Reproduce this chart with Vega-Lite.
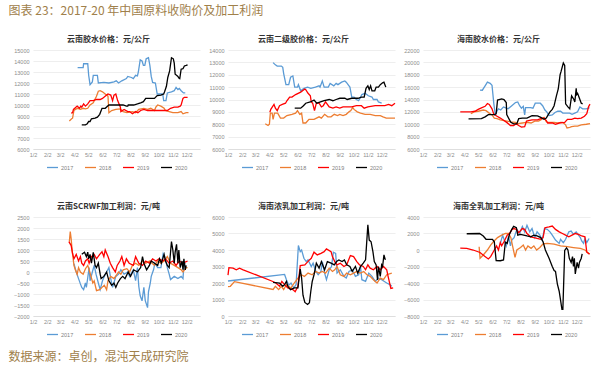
{
"$schema":"https://vega.github.io/schema/vega-lite/v6.json",
"padding":{"left":8,"top":5,"right":5,"bottom":5},
"data":{"format":{"parse":{"d":"date:'%m/%d'"}},"values":[
{"p":1,"s":"2017","d":"4/9","v":13400},{"p":1,"s":"2017","d":"4/21","v":13400},{"p":1,"s":"2017","d":"4/22","v":13750},{"p":1,"s":"2017","d":"5/1","v":13750},{"p":1,"s":"2017","d":"5/3","v":12700},{"p":1,"s":"2017","d":"5/6","v":11850},{"p":1,"s":"2017","d":"5/11","v":12100},{"p":1,"s":"2017","d":"5/13","v":12700},{"p":1,"s":"2017","d":"5/22","v":12700},{"p":1,"s":"2017","d":"5/24","v":12000},{"p":1,"s":"2017","d":"6/5","v":12050},{"p":1,"s":"2017","d":"6/16","v":12000},{"p":1,"s":"2017","d":"6/27","v":12100},{"p":1,"s":"2017","d":"7/2","v":12200},{"p":1,"s":"2017","d":"7/7","v":12000},{"p":1,"s":"2017","d":"7/14","v":12200},{"p":1,"s":"2017","d":"7/24","v":12400},{"p":1,"s":"2017","d":"7/27","v":12600},{"p":1,"s":"2017","d":"8/4","v":12500},{"p":1,"s":"2017","d":"8/8","v":12400},{"p":1,"s":"2017","d":"8/13","v":12700},{"p":1,"s":"2017","d":"8/17","v":12650},{"p":1,"s":"2017","d":"8/19","v":13000},{"p":1,"s":"2017","d":"8/23","v":14100},{"p":1,"s":"2017","d":"8/27","v":14000},{"p":1,"s":"2017","d":"8/30","v":13600},{"p":1,"s":"2017","d":"9/2","v":13600},{"p":1,"s":"2017","d":"9/5","v":14200},{"p":1,"s":"2017","d":"9/10","v":14300},{"p":1,"s":"2017","d":"9/13","v":13600},{"p":1,"s":"2017","d":"9/16","v":12600},{"p":1,"s":"2017","d":"9/19","v":12050},{"p":1,"s":"2017","d":"9/25","v":12000},{"p":1,"s":"2017","d":"9/29","v":11000},{"p":1,"s":"2017","d":"10/11","v":11000},{"p":1,"s":"2017","d":"10/13","v":10400},{"p":1,"s":"2017","d":"10/18","v":10400},{"p":1,"s":"2017","d":"10/21","v":11100},{"p":1,"s":"2017","d":"10/30","v":11200},{"p":1,"s":"2017","d":"11/5","v":11300},{"p":1,"s":"2017","d":"11/9","v":11600},{"p":1,"s":"2017","d":"11/13","v":11400},{"p":1,"s":"2017","d":"11/16","v":11500},{"p":1,"s":"2017","d":"11/20","v":11300},{"p":1,"s":"2017","d":"11/25","v":11100},{"p":1,"s":"2017","d":"11/29","v":11100},
{"p":1,"s":"2018","d":"3/22","v":8550},{"p":1,"s":"2018","d":"3/27","v":8750},{"p":1,"s":"2018","d":"3/29","v":8800},{"p":1,"s":"2018","d":"4/1","v":9500},{"p":1,"s":"2018","d":"4/4","v":9600},{"p":1,"s":"2018","d":"4/9","v":9700},{"p":1,"s":"2018","d":"4/15","v":9600},{"p":1,"s":"2018","d":"4/21","v":9700},{"p":1,"s":"2018","d":"4/26","v":9650},{"p":1,"s":"2018","d":"5/1","v":9700},{"p":1,"s":"2018","d":"5/6","v":10000},{"p":1,"s":"2018","d":"5/13","v":10200},{"p":1,"s":"2018","d":"5/20","v":10800},{"p":1,"s":"2018","d":"5/24","v":11250},{"p":1,"s":"2018","d":"5/28","v":11300},{"p":1,"s":"2018","d":"6/2","v":11200},{"p":1,"s":"2018","d":"6/8","v":11000},{"p":1,"s":"2018","d":"6/14","v":10800},{"p":1,"s":"2018","d":"6/16","v":9300},{"p":1,"s":"2018","d":"6/22","v":9500},{"p":1,"s":"2018","d":"7/1","v":9600},{"p":1,"s":"2018","d":"7/11","v":9650},{"p":1,"s":"2018","d":"7/17","v":9400},{"p":1,"s":"2018","d":"7/25","v":9300},{"p":1,"s":"2018","d":"8/6","v":9400},{"p":1,"s":"2018","d":"8/13","v":9300},{"p":1,"s":"2018","d":"8/20","v":9600},{"p":1,"s":"2018","d":"8/31","v":9700},{"p":1,"s":"2018","d":"9/8","v":9600},{"p":1,"s":"2018","d":"9/15","v":9700},{"p":1,"s":"2018","d":"9/23","v":9500},{"p":1,"s":"2018","d":"9/26","v":9800},{"p":1,"s":"2018","d":"9/30","v":10000},{"p":1,"s":"2018","d":"10/7","v":9900},{"p":1,"s":"2018","d":"10/14","v":9700},{"p":1,"s":"2018","d":"10/17","v":9500},{"p":1,"s":"2018","d":"10/25","v":9400},{"p":1,"s":"2018","d":"11/2","v":9300},{"p":1,"s":"2018","d":"11/13","v":9300},{"p":1,"s":"2018","d":"11/20","v":9400},{"p":1,"s":"2018","d":"11/24","v":9200},{"p":1,"s":"2018","d":"12/1","v":9300},{"p":1,"s":"2018","d":"12/6","v":9300},
{"p":1,"s":"2019","d":"3/26","v":9270},{"p":1,"s":"2019","d":"3/29","v":9300},{"p":1,"s":"2019","d":"3/31","v":9600},{"p":1,"s":"2019","d":"4/8","v":9900},{"p":1,"s":"2019","d":"4/13","v":9700},{"p":1,"s":"2019","d":"4/16","v":9900},{"p":1,"s":"2019","d":"4/18","v":9800},{"p":1,"s":"2019","d":"4/22","v":10100},{"p":1,"s":"2019","d":"4/26","v":9900},{"p":1,"s":"2019","d":"5/1","v":10100},{"p":1,"s":"2019","d":"5/6","v":10400},{"p":1,"s":"2019","d":"5/13","v":10400},{"p":1,"s":"2019","d":"5/20","v":10500},{"p":1,"s":"2019","d":"5/28","v":10500},{"p":1,"s":"2019","d":"6/2","v":10600},{"p":1,"s":"2019","d":"6/11","v":10900},{"p":1,"s":"2019","d":"6/14","v":11000},{"p":1,"s":"2019","d":"6/20","v":10900},{"p":1,"s":"2019","d":"6/24","v":10400},{"p":1,"s":"2019","d":"6/27","v":10900},{"p":1,"s":"2019","d":"7/1","v":11000},{"p":1,"s":"2019","d":"7/5","v":10400},{"p":1,"s":"2019","d":"7/11","v":9800},{"p":1,"s":"2019","d":"7/12","v":9400},{"p":1,"s":"2019","d":"7/19","v":9600},{"p":1,"s":"2019","d":"7/27","v":9400},{"p":1,"s":"2019","d":"7/31","v":9400},{"p":1,"s":"2019","d":"8/6","v":9200},{"p":1,"s":"2019","d":"8/13","v":9400},{"p":1,"s":"2019","d":"8/18","v":9300},{"p":1,"s":"2019","d":"8/24","v":9500},{"p":1,"s":"2019","d":"8/31","v":9600},{"p":1,"s":"2019","d":"9/8","v":9500},{"p":1,"s":"2019","d":"9/23","v":9500},{"p":1,"s":"2019","d":"10/7","v":9500},{"p":1,"s":"2019","d":"10/21","v":9500},{"p":1,"s":"2019","d":"10/28","v":9700},{"p":1,"s":"2019","d":"11/5","v":9800},{"p":1,"s":"2019","d":"11/13","v":9800},{"p":1,"s":"2019","d":"11/18","v":9900},{"p":1,"s":"2019","d":"11/20","v":10000},{"p":1,"s":"2019","d":"11/24","v":10600},{"p":1,"s":"2019","d":"11/27","v":10700},{"p":1,"s":"2019","d":"12/4","v":10700},
{"p":1,"s":"2020","d":"4/18","v":8200},{"p":1,"s":"2020","d":"4/26","v":8200},{"p":1,"s":"2020","d":"4/30","v":8300},{"p":1,"s":"2020","d":"5/3","v":8500},{"p":1,"s":"2020","d":"5/6","v":8500},{"p":1,"s":"2020","d":"5/9","v":8750},{"p":1,"s":"2020","d":"5/17","v":8800},{"p":1,"s":"2020","d":"5/22","v":8900},{"p":1,"s":"2020","d":"5/27","v":9150},{"p":1,"s":"2020","d":"6/1","v":9700},{"p":1,"s":"2020","d":"6/8","v":9700},{"p":1,"s":"2020","d":"6/16","v":10000},{"p":1,"s":"2020","d":"7/1","v":10000},{"p":1,"s":"2020","d":"7/17","v":10000},{"p":1,"s":"2020","d":"7/24","v":9900},{"p":1,"s":"2020","d":"7/27","v":9900},{"p":1,"s":"2020","d":"7/28","v":10000},{"p":1,"s":"2020","d":"8/9","v":10000},{"p":1,"s":"2020","d":"8/17","v":10100},{"p":1,"s":"2020","d":"8/24","v":10200},{"p":1,"s":"2020","d":"8/30","v":10300},{"p":1,"s":"2020","d":"9/4","v":10600},{"p":1,"s":"2020","d":"9/15","v":10600},{"p":1,"s":"2020","d":"9/23","v":10600},{"p":1,"s":"2020","d":"9/29","v":10850},{"p":1,"s":"2020","d":"10/7","v":10900},{"p":1,"s":"2020","d":"10/13","v":11000},{"p":1,"s":"2020","d":"10/15","v":11200},{"p":1,"s":"2020","d":"10/19","v":11700},{"p":1,"s":"2020","d":"10/22","v":12500},{"p":1,"s":"2020","d":"10/26","v":13100},{"p":1,"s":"2020","d":"10/30","v":14300},{"p":1,"s":"2020","d":"11/3","v":14200},{"p":1,"s":"2020","d":"11/5","v":13800},{"p":1,"s":"2020","d":"11/7","v":12800},{"p":1,"s":"2020","d":"11/10","v":12700},{"p":1,"s":"2020","d":"11/13","v":12600},{"p":1,"s":"2020","d":"11/15","v":12450},{"p":1,"s":"2020","d":"11/17","v":12400},{"p":1,"s":"2020","d":"11/20","v":13250},{"p":1,"s":"2020","d":"11/24","v":13300},{"p":1,"s":"2020","d":"11/27","v":13550},{"p":1,"s":"2020","d":"12/1","v":13600},{"p":1,"s":"2020","d":"12/4","v":13650},
{"p":2,"s":"2017","d":"4/10","v":12980},{"p":2,"s":"2017","d":"4/15","v":12800},{"p":2,"s":"2017","d":"4/19","v":12700},{"p":2,"s":"2017","d":"4/28","v":12700},{"p":2,"s":"2017","d":"5/1","v":12600},{"p":2,"s":"2017","d":"5/3","v":12100},{"p":2,"s":"2017","d":"5/8","v":11200},{"p":2,"s":"2017","d":"5/14","v":11200},{"p":2,"s":"2017","d":"5/18","v":11800},{"p":2,"s":"2017","d":"5/23","v":11900},{"p":2,"s":"2017","d":"5/27","v":11000},{"p":2,"s":"2017","d":"6/2","v":11000},{"p":2,"s":"2017","d":"6/4","v":11200},{"p":2,"s":"2017","d":"6/9","v":10700},{"p":2,"s":"2017","d":"6/16","v":10900},{"p":2,"s":"2017","d":"6/24","v":11000},{"p":2,"s":"2017","d":"7/1","v":10900},{"p":2,"s":"2017","d":"7/11","v":11000},{"p":2,"s":"2017","d":"7/19","v":11100},{"p":2,"s":"2017","d":"7/21","v":11000},{"p":2,"s":"2017","d":"7/26","v":11500},{"p":2,"s":"2017","d":"7/30","v":11000},{"p":2,"s":"2017","d":"8/8","v":11000},{"p":2,"s":"2017","d":"8/12","v":11300},{"p":2,"s":"2017","d":"8/20","v":11100},{"p":2,"s":"2017","d":"8/25","v":11300},{"p":2,"s":"2017","d":"8/29","v":11200},{"p":2,"s":"2017","d":"9/6","v":11400},{"p":2,"s":"2017","d":"9/13","v":11500},{"p":2,"s":"2017","d":"9/16","v":11400},{"p":2,"s":"2017","d":"9/22","v":11100},{"p":2,"s":"2017","d":"9/24","v":11000},{"p":2,"s":"2017","d":"9/28","v":10200},{"p":2,"s":"2017","d":"10/3","v":10200},{"p":2,"s":"2017","d":"10/8","v":10000},{"p":2,"s":"2017","d":"10/13","v":9900},{"p":2,"s":"2017","d":"10/20","v":10400},{"p":2,"s":"2017","d":"10/27","v":10500},{"p":2,"s":"2017","d":"11/3","v":10300},{"p":2,"s":"2017","d":"11/11","v":10200},{"p":2,"s":"2017","d":"11/14","v":10000},{"p":2,"s":"2017","d":"11/22","v":10000},{"p":2,"s":"2017","d":"11/25","v":9800},{"p":2,"s":"2017","d":"12/2","v":9700},
{"p":2,"s":"2018","d":"3/24","v":8040},{"p":2,"s":"2018","d":"3/30","v":7900},{"p":2,"s":"2018","d":"4/2","v":8000},{"p":2,"s":"2018","d":"4/4","v":8900},{"p":2,"s":"2018","d":"4/8","v":8900},{"p":2,"s":"2018","d":"4/10","v":8400},{"p":2,"s":"2018","d":"4/13","v":8900},{"p":2,"s":"2018","d":"4/20","v":8900},{"p":2,"s":"2018","d":"4/26","v":8500},{"p":2,"s":"2018","d":"5/3","v":8500},{"p":2,"s":"2018","d":"5/10","v":8700},{"p":2,"s":"2018","d":"5/21","v":8800},{"p":2,"s":"2018","d":"5/29","v":8900},{"p":2,"s":"2018","d":"6/2","v":9100},{"p":2,"s":"2018","d":"6/7","v":8800},{"p":2,"s":"2018","d":"6/11","v":8900},{"p":2,"s":"2018","d":"6/14","v":8100},{"p":2,"s":"2018","d":"6/20","v":8100},{"p":2,"s":"2018","d":"6/27","v":8400},{"p":2,"s":"2018","d":"7/8","v":8400},{"p":2,"s":"2018","d":"7/19","v":8600},{"p":2,"s":"2018","d":"7/24","v":8500},{"p":2,"s":"2018","d":"7/31","v":8800},{"p":2,"s":"2018","d":"8/7","v":8600},{"p":2,"s":"2018","d":"8/14","v":8600},{"p":2,"s":"2018","d":"8/21","v":8800},{"p":2,"s":"2018","d":"8/28","v":8700},{"p":2,"s":"2018","d":"9/2","v":8800},{"p":2,"s":"2018","d":"9/9","v":8700},{"p":2,"s":"2018","d":"9/16","v":8800},{"p":2,"s":"2018","d":"9/22","v":9000},{"p":2,"s":"2018","d":"9/26","v":9100},{"p":2,"s":"2018","d":"9/30","v":9350},{"p":2,"s":"2018","d":"10/3","v":9200},{"p":2,"s":"2018","d":"10/10","v":9000},{"p":2,"s":"2018","d":"10/17","v":8900},{"p":2,"s":"2018","d":"10/27","v":8800},{"p":2,"s":"2018","d":"11/7","v":8800},{"p":2,"s":"2018","d":"11/18","v":8700},{"p":2,"s":"2018","d":"11/29","v":8700},{"p":2,"s":"2018","d":"12/5","v":8600},{"p":2,"s":"2018","d":"12/12","v":8500},{"p":2,"s":"2018","d":"12/31","v":8500},
{"p":2,"s":"2019","d":"4/3","v":8970},{"p":2,"s":"2019","d":"4/5","v":9200},{"p":2,"s":"2019","d":"4/12","v":9600},{"p":2,"s":"2019","d":"4/15","v":9300},{"p":2,"s":"2019","d":"4/19","v":9100},{"p":2,"s":"2019","d":"4/24","v":9500},{"p":2,"s":"2019","d":"4/30","v":9600},{"p":2,"s":"2019","d":"5/7","v":9700},{"p":2,"s":"2019","d":"5/10","v":9900},{"p":2,"s":"2019","d":"5/16","v":10200},{"p":2,"s":"2019","d":"5/21","v":10200},{"p":2,"s":"2019","d":"5/29","v":10400},{"p":2,"s":"2019","d":"6/9","v":10600},{"p":2,"s":"2019","d":"6/18","v":10850},{"p":2,"s":"2019","d":"6/20","v":10800},{"p":2,"s":"2019","d":"6/25","v":10500},{"p":2,"s":"2019","d":"6/30","v":10300},{"p":2,"s":"2019","d":"7/2","v":9800},{"p":2,"s":"2019","d":"7/5","v":9700},{"p":2,"s":"2019","d":"7/9","v":9100},{"p":2,"s":"2019","d":"7/13","v":9700},{"p":2,"s":"2019","d":"7/19","v":9700},{"p":2,"s":"2019","d":"7/24","v":9400},{"p":2,"s":"2019","d":"7/28","v":9500},{"p":2,"s":"2019","d":"8/2","v":9800},{"p":2,"s":"2019","d":"8/10","v":9400},{"p":2,"s":"2019","d":"8/18","v":9300},{"p":2,"s":"2019","d":"8/25","v":9400},{"p":2,"s":"2019","d":"9/2","v":9300},{"p":2,"s":"2019","d":"9/9","v":9400},{"p":2,"s":"2019","d":"9/28","v":9400},{"p":2,"s":"2019","d":"10/8","v":9500},{"p":2,"s":"2019","d":"10/19","v":9500},{"p":2,"s":"2019","d":"10/25","v":9300},{"p":2,"s":"2019","d":"11/2","v":9400},{"p":2,"s":"2019","d":"11/18","v":9500},{"p":2,"s":"2019","d":"12/9","v":9500},{"p":2,"s":"2019","d":"12/17","v":9600},{"p":2,"s":"2019","d":"12/24","v":9500},{"p":2,"s":"2019","d":"12/31","v":9700},
{"p":2,"s":"2020","d":"5/27","v":9300},{"p":2,"s":"2020","d":"6/9","v":9300},{"p":2,"s":"2020","d":"6/15","v":9500},{"p":2,"s":"2020","d":"6/20","v":9700},{"p":2,"s":"2020","d":"6/30","v":9800},{"p":2,"s":"2020","d":"7/8","v":9950},{"p":2,"s":"2020","d":"7/14","v":9700},{"p":2,"s":"2020","d":"7/22","v":9800},{"p":2,"s":"2020","d":"7/30","v":9900},{"p":2,"s":"2020","d":"8/10","v":10000},{"p":2,"s":"2020","d":"8/18","v":9900},{"p":2,"s":"2020","d":"8/25","v":10000},{"p":2,"s":"2020","d":"9/2","v":10100},{"p":2,"s":"2020","d":"9/13","v":10100},{"p":2,"s":"2020","d":"9/18","v":10000},{"p":2,"s":"2020","d":"9/28","v":10100},{"p":2,"s":"2020","d":"10/12","v":10100},{"p":2,"s":"2020","d":"10/19","v":10200},{"p":2,"s":"2020","d":"10/25","v":10200},{"p":2,"s":"2020","d":"10/29","v":10900},{"p":2,"s":"2020","d":"11/2","v":11100},{"p":2,"s":"2020","d":"11/5","v":10800},{"p":2,"s":"2020","d":"11/8","v":11100},{"p":2,"s":"2020","d":"11/11","v":10700},{"p":2,"s":"2020","d":"11/17","v":10700},{"p":2,"s":"2020","d":"11/20","v":11000},{"p":2,"s":"2020","d":"11/25","v":11000},{"p":2,"s":"2020","d":"11/29","v":11200},{"p":2,"s":"2020","d":"12/4","v":11350},{"p":2,"s":"2020","d":"12/7","v":11400},{"p":2,"s":"2020","d":"12/11","v":11000},
{"p":3,"s":"2017","d":"5/6","v":15530},{"p":3,"s":"2017","d":"5/11","v":15500},{"p":3,"s":"2017","d":"5/17","v":16200},{"p":3,"s":"2017","d":"5/22","v":16800},{"p":3,"s":"2017","d":"5/28","v":16600},{"p":3,"s":"2017","d":"6/1","v":16300},{"p":3,"s":"2017","d":"6/5","v":13300},{"p":3,"s":"2017","d":"6/8","v":11600},{"p":3,"s":"2017","d":"6/15","v":12500},{"p":3,"s":"2017","d":"6/20","v":12300},{"p":3,"s":"2017","d":"6/26","v":12800},{"p":3,"s":"2017","d":"7/2","v":12600},{"p":3,"s":"2017","d":"7/6","v":12500},{"p":3,"s":"2017","d":"7/14","v":13000},{"p":3,"s":"2017","d":"7/22","v":13500},{"p":3,"s":"2017","d":"7/27","v":13600},{"p":3,"s":"2017","d":"7/31","v":13000},{"p":3,"s":"2017","d":"8/4","v":12600},{"p":3,"s":"2017","d":"8/8","v":12900},{"p":3,"s":"2017","d":"8/11","v":11500},{"p":3,"s":"2017","d":"8/13","v":12700},{"p":3,"s":"2017","d":"8/24","v":12700},{"p":3,"s":"2017","d":"8/29","v":12600},{"p":3,"s":"2017","d":"9/3","v":13400},{"p":3,"s":"2017","d":"9/14","v":13400},{"p":3,"s":"2017","d":"9/19","v":13000},{"p":3,"s":"2017","d":"9/24","v":12300},{"p":3,"s":"2017","d":"9/28","v":12000},{"p":3,"s":"2017","d":"10/3","v":11400},{"p":3,"s":"2017","d":"10/10","v":11500},{"p":3,"s":"2017","d":"10/16","v":11900},{"p":3,"s":"2017","d":"10/22","v":12100},{"p":3,"s":"2017","d":"10/28","v":12100},{"p":3,"s":"2017","d":"11/2","v":11800},{"p":3,"s":"2017","d":"11/17","v":11800},{"p":3,"s":"2017","d":"11/22","v":11600},{"p":3,"s":"2017","d":"11/28","v":11800},{"p":3,"s":"2017","d":"12/4","v":12000},{"p":3,"s":"2017","d":"12/9","v":12800},{"p":3,"s":"2017","d":"12/15","v":12500},{"p":3,"s":"2017","d":"12/23","v":12500},{"p":3,"s":"2017","d":"12/30","v":12700},
{"p":3,"s":"2018","d":"4/16","v":11700},{"p":3,"s":"2018","d":"4/23","v":12000},{"p":3,"s":"2018","d":"5/2","v":12100},{"p":3,"s":"2018","d":"5/13","v":12300},{"p":3,"s":"2018","d":"5/19","v":12200},{"p":3,"s":"2018","d":"5/26","v":11800},{"p":3,"s":"2018","d":"6/1","v":11500},{"p":3,"s":"2018","d":"6/6","v":11000},{"p":3,"s":"2018","d":"6/12","v":10900},{"p":3,"s":"2018","d":"6/19","v":10700},{"p":3,"s":"2018","d":"6/27","v":10600},{"p":3,"s":"2018","d":"7/12","v":10400},{"p":3,"s":"2018","d":"7/22","v":10300},{"p":3,"s":"2018","d":"7/27","v":10100},{"p":3,"s":"2018","d":"8/6","v":10200},{"p":3,"s":"2018","d":"8/15","v":10300},{"p":3,"s":"2018","d":"8/25","v":10200},{"p":3,"s":"2018","d":"9/2","v":10500},{"p":3,"s":"2018","d":"9/10","v":10500},{"p":3,"s":"2018","d":"9/15","v":10700},{"p":3,"s":"2018","d":"9/22","v":11100},{"p":3,"s":"2018","d":"9/27","v":10400},{"p":3,"s":"2018","d":"9/30","v":10300},{"p":3,"s":"2018","d":"10/14","v":10300},{"p":3,"s":"2018","d":"10/22","v":10200},{"p":3,"s":"2018","d":"10/28","v":10300},{"p":3,"s":"2018","d":"11/2","v":10300},{"p":3,"s":"2018","d":"11/8","v":9900},{"p":3,"s":"2018","d":"11/11","v":9400},{"p":3,"s":"2018","d":"11/17","v":9500},{"p":3,"s":"2018","d":"11/21","v":9600},{"p":3,"s":"2018","d":"11/28","v":9700},{"p":3,"s":"2018","d":"12/4","v":9700},{"p":3,"s":"2018","d":"12/12","v":9900},{"p":3,"s":"2018","d":"12/23","v":10000},{"p":3,"s":"2018","d":"12/31","v":10100},
{"p":3,"s":"2019","d":"3/24","v":12000},{"p":3,"s":"2019","d":"4/7","v":12000},{"p":3,"s":"2019","d":"4/16","v":12000},{"p":3,"s":"2019","d":"4/25","v":12100},{"p":3,"s":"2019","d":"5/2","v":12400},{"p":3,"s":"2019","d":"5/9","v":12650},{"p":3,"s":"2019","d":"5/17","v":12900},{"p":3,"s":"2019","d":"5/22","v":13350},{"p":3,"s":"2019","d":"5/26","v":13200},{"p":3,"s":"2019","d":"6/1","v":12500},{"p":3,"s":"2019","d":"6/5","v":11600},{"p":3,"s":"2019","d":"6/12","v":11300},{"p":3,"s":"2019","d":"6/19","v":11000},{"p":3,"s":"2019","d":"6/27","v":10600},{"p":3,"s":"2019","d":"7/3","v":10300},{"p":3,"s":"2019","d":"7/11","v":9800},{"p":3,"s":"2019","d":"7/18","v":9800},{"p":3,"s":"2019","d":"7/22","v":10000},{"p":3,"s":"2019","d":"7/25","v":10000},{"p":3,"s":"2019","d":"7/29","v":9800},{"p":3,"s":"2019","d":"8/4","v":9550},{"p":3,"s":"2019","d":"8/11","v":9600},{"p":3,"s":"2019","d":"8/15","v":10500},{"p":3,"s":"2019","d":"8/27","v":10700},{"p":3,"s":"2019","d":"9/8","v":10700},{"p":3,"s":"2019","d":"9/15","v":10900},{"p":3,"s":"2019","d":"9/22","v":11000},{"p":3,"s":"2019","d":"9/27","v":10600},{"p":3,"s":"2019","d":"9/30","v":10200},{"p":3,"s":"2019","d":"10/10","v":10200},{"p":3,"s":"2019","d":"10/17","v":10000},{"p":3,"s":"2019","d":"10/25","v":10200},{"p":3,"s":"2019","d":"11/6","v":10300},{"p":3,"s":"2019","d":"11/12","v":10800},{"p":3,"s":"2019","d":"11/21","v":10800},{"p":3,"s":"2019","d":"11/28","v":11000},{"p":3,"s":"2019","d":"12/4","v":10900},{"p":3,"s":"2019","d":"12/12","v":11000},{"p":3,"s":"2019","d":"12/19","v":11300},{"p":3,"s":"2019","d":"12/24","v":11700},{"p":3,"s":"2019","d":"12/28","v":12850},{"p":3,"s":"2019","d":"12/31","v":13250},
{"p":3,"s":"2020","d":"4/11","v":10880},{"p":3,"s":"2020","d":"5/9","v":10900},{"p":3,"s":"2020","d":"5/17","v":11200},{"p":3,"s":"2020","d":"5/24","v":11550},{"p":3,"s":"2020","d":"6/6","v":11550},{"p":3,"s":"2020","d":"6/10","v":11700},{"p":3,"s":"2020","d":"6/13","v":13900},{"p":3,"s":"2020","d":"6/22","v":14100},{"p":3,"s":"2020","d":"6/27","v":14000},{"p":3,"s":"2020","d":"7/2","v":13500},{"p":3,"s":"2020","d":"7/3","v":11550},{"p":3,"s":"2020","d":"7/12","v":10300},{"p":3,"s":"2020","d":"7/18","v":10050},{"p":3,"s":"2020","d":"7/25","v":10100},{"p":3,"s":"2020","d":"7/29","v":10900},{"p":3,"s":"2020","d":"8/6","v":11000},{"p":3,"s":"2020","d":"8/16","v":11000},{"p":3,"s":"2020","d":"8/27","v":11400},{"p":3,"s":"2020","d":"9/8","v":11350},{"p":3,"s":"2020","d":"9/15","v":11100},{"p":3,"s":"2020","d":"9/22","v":10800},{"p":3,"s":"2020","d":"9/27","v":11000},{"p":3,"s":"2020","d":"9/30","v":11400},{"p":3,"s":"2020","d":"10/5","v":12000},{"p":3,"s":"2020","d":"10/10","v":12400},{"p":3,"s":"2020","d":"10/14","v":13000},{"p":3,"s":"2020","d":"10/19","v":14600},{"p":3,"s":"2020","d":"10/23","v":15700},{"p":3,"s":"2020","d":"10/27","v":18000},{"p":3,"s":"2020","d":"10/29","v":18500},{"p":3,"s":"2020","d":"11/3","v":19900},{"p":3,"s":"2020","d":"11/6","v":19500},{"p":3,"s":"2020","d":"11/8","v":13300},{"p":3,"s":"2020","d":"11/13","v":12800},{"p":3,"s":"2020","d":"11/17","v":12500},{"p":3,"s":"2020","d":"11/21","v":14600},{"p":3,"s":"2020","d":"11/26","v":14000},{"p":3,"s":"2020","d":"11/28","v":13600},{"p":3,"s":"2020","d":"12/1","v":15800},{"p":3,"s":"2020","d":"12/2","v":14800},{"p":3,"s":"2020","d":"12/4","v":15000},{"p":3,"s":"2020","d":"12/8","v":14200},{"p":3,"s":"2020","d":"12/12","v":13400},{"p":3,"s":"2020","d":"12/15","v":13300},
{"p":4,"s":"2017","d":"4/1","v":380},{"p":4,"s":"2017","d":"4/6","v":0},{"p":4,"s":"2017","d":"4/11","v":-300},{"p":4,"s":"2017","d":"4/15","v":-540},{"p":4,"s":"2017","d":"4/18","v":-700},{"p":4,"s":"2017","d":"4/22","v":-800},{"p":4,"s":"2017","d":"4/26","v":-500},{"p":4,"s":"2017","d":"4/28","v":-700},{"p":4,"s":"2017","d":"5/1","v":-260},{"p":4,"s":"2017","d":"5/4","v":200},{"p":4,"s":"2017","d":"5/6","v":-400},{"p":4,"s":"2017","d":"5/11","v":0},{"p":4,"s":"2017","d":"5/15","v":300},{"p":4,"s":"2017","d":"5/19","v":-100},{"p":4,"s":"2017","d":"5/24","v":-500},{"p":4,"s":"2017","d":"5/28","v":-800},{"p":4,"s":"2017","d":"6/2","v":-400},{"p":4,"s":"2017","d":"6/6","v":-200},{"p":4,"s":"2017","d":"6/11","v":0},{"p":4,"s":"2017","d":"6/16","v":200},{"p":4,"s":"2017","d":"6/20","v":-300},{"p":4,"s":"2017","d":"6/24","v":-700},{"p":4,"s":"2017","d":"7/1","v":-200},{"p":4,"s":"2017","d":"7/7","v":-100},{"p":4,"s":"2017","d":"7/12","v":100},{"p":4,"s":"2017","d":"7/19","v":-100},{"p":4,"s":"2017","d":"7/27","v":0},{"p":4,"s":"2017","d":"7/31","v":-200},{"p":4,"s":"2017","d":"8/8","v":100},{"p":4,"s":"2017","d":"8/13","v":-390},{"p":4,"s":"2017","d":"8/17","v":200},{"p":4,"s":"2017","d":"8/20","v":-660},{"p":4,"s":"2017","d":"8/23","v":-1080},{"p":4,"s":"2017","d":"8/27","v":-1310},{"p":4,"s":"2017","d":"8/31","v":-700},{"p":4,"s":"2017","d":"9/3","v":-1300},{"p":4,"s":"2017","d":"9/8","v":-1620},{"p":4,"s":"2017","d":"9/10","v":-900},{"p":4,"s":"2017","d":"9/14","v":-500},{"p":4,"s":"2017","d":"9/16","v":-200},{"p":4,"s":"2017","d":"9/21","v":100},{"p":4,"s":"2017","d":"9/24","v":400},{"p":4,"s":"2017","d":"9/30","v":200},{"p":4,"s":"2017","d":"10/7","v":200},{"p":4,"s":"2017","d":"10/12","v":840},{"p":4,"s":"2017","d":"10/15","v":700},{"p":4,"s":"2017","d":"10/18","v":500},{"p":4,"s":"2017","d":"10/21","v":200},{"p":4,"s":"2017","d":"10/25","v":-100},{"p":4,"s":"2017","d":"10/28","v":-340},{"p":4,"s":"2017","d":"11/5","v":-200},{"p":4,"s":"2017","d":"11/13","v":-300},{"p":4,"s":"2017","d":"11/20","v":-200},{"p":4,"s":"2017","d":"11/24","v":-300},{"p":4,"s":"2017","d":"11/26","v":300},{"p":4,"s":"2017","d":"11/29","v":400},
{"p":4,"s":"2018","d":"3/22","v":1380},{"p":4,"s":"2018","d":"3/24","v":1840},{"p":4,"s":"2018","d":"3/26","v":1500},{"p":4,"s":"2018","d":"3/28","v":1000},{"p":4,"s":"2018","d":"4/1","v":300},{"p":4,"s":"2018","d":"4/4","v":100},{"p":4,"s":"2018","d":"4/8","v":-100},{"p":4,"s":"2018","d":"4/11","v":200},{"p":4,"s":"2018","d":"4/15","v":0},{"p":4,"s":"2018","d":"4/21","v":-100},{"p":4,"s":"2018","d":"4/26","v":150},{"p":4,"s":"2018","d":"5/1","v":300},{"p":4,"s":"2018","d":"5/4","v":100},{"p":4,"s":"2018","d":"5/12","v":-500},{"p":4,"s":"2018","d":"5/15","v":-400},{"p":4,"s":"2018","d":"5/20","v":-850},{"p":4,"s":"2018","d":"5/27","v":-800},{"p":4,"s":"2018","d":"6/1","v":-700},{"p":4,"s":"2018","d":"6/6","v":-600},{"p":4,"s":"2018","d":"6/11","v":-800},{"p":4,"s":"2018","d":"6/14","v":-400},{"p":4,"s":"2018","d":"6/20","v":-200},{"p":4,"s":"2018","d":"6/27","v":-300},{"p":4,"s":"2018","d":"7/7","v":0},{"p":4,"s":"2018","d":"7/12","v":-100},{"p":4,"s":"2018","d":"7/17","v":100},{"p":4,"s":"2018","d":"7/25","v":150},{"p":4,"s":"2018","d":"7/31","v":0},{"p":4,"s":"2018","d":"8/6","v":300},{"p":4,"s":"2018","d":"8/13","v":400},{"p":4,"s":"2018","d":"8/20","v":300},{"p":4,"s":"2018","d":"8/28","v":500},{"p":4,"s":"2018","d":"9/4","v":400},{"p":4,"s":"2018","d":"9/12","v":500},{"p":4,"s":"2018","d":"9/23","v":300},{"p":4,"s":"2018","d":"9/30","v":500},{"p":4,"s":"2018","d":"10/7","v":400},{"p":4,"s":"2018","d":"10/14","v":500},{"p":4,"s":"2018","d":"10/21","v":700},{"p":4,"s":"2018","d":"10/28","v":400},{"p":4,"s":"2018","d":"11/5","v":300},{"p":4,"s":"2018","d":"11/13","v":200},{"p":4,"s":"2018","d":"11/20","v":100},{"p":4,"s":"2018","d":"11/24","v":0},{"p":4,"s":"2018","d":"12/1","v":200},{"p":4,"s":"2018","d":"12/4","v":200},
{"p":4,"s":"2019","d":"3/21","v":1380},{"p":4,"s":"2019","d":"3/26","v":1200},{"p":4,"s":"2019","d":"3/29","v":840},{"p":4,"s":"2019","d":"4/1","v":600},{"p":4,"s":"2019","d":"4/6","v":800},{"p":4,"s":"2019","d":"4/11","v":500},{"p":4,"s":"2019","d":"4/15","v":700},{"p":4,"s":"2019","d":"4/18","v":400},{"p":4,"s":"2019","d":"4/22","v":300},{"p":4,"s":"2019","d":"4/26","v":500},{"p":4,"s":"2019","d":"5/1","v":600},{"p":4,"s":"2019","d":"5/4","v":400},{"p":4,"s":"2019","d":"5/9","v":700},{"p":4,"s":"2019","d":"5/15","v":800},{"p":4,"s":"2019","d":"5/20","v":600},{"p":4,"s":"2019","d":"5/27","v":800},{"p":4,"s":"2019","d":"6/1","v":920},{"p":4,"s":"2019","d":"6/5","v":700},{"p":4,"s":"2019","d":"6/8","v":1000},{"p":4,"s":"2019","d":"6/14","v":700},{"p":4,"s":"2019","d":"6/19","v":400},{"p":4,"s":"2019","d":"6/24","v":200},{"p":4,"s":"2019","d":"6/30","v":0},{"p":4,"s":"2019","d":"7/4","v":300},{"p":4,"s":"2019","d":"7/10","v":500},{"p":4,"s":"2019","d":"7/14","v":700},{"p":4,"s":"2019","d":"7/19","v":300},{"p":4,"s":"2019","d":"7/24","v":600},{"p":4,"s":"2019","d":"7/30","v":400},{"p":4,"s":"2019","d":"8/8","v":300},{"p":4,"s":"2019","d":"8/13","v":700},{"p":4,"s":"2019","d":"8/20","v":400},{"p":4,"s":"2019","d":"8/28","v":300},{"p":4,"s":"2019","d":"9/4","v":500},{"p":4,"s":"2019","d":"9/12","v":400},{"p":4,"s":"2019","d":"9/19","v":600},{"p":4,"s":"2019","d":"9/26","v":500},{"p":4,"s":"2019","d":"10/3","v":600},{"p":4,"s":"2019","d":"10/11","v":500},{"p":4,"s":"2019","d":"10/17","v":600},{"p":4,"s":"2019","d":"10/25","v":400},{"p":4,"s":"2019","d":"11/2","v":500},{"p":4,"s":"2019","d":"11/9","v":300},{"p":4,"s":"2019","d":"11/16","v":500},{"p":4,"s":"2019","d":"11/24","v":400},{"p":4,"s":"2019","d":"12/4","v":500},
{"p":4,"s":"2020","d":"4/18","v":810},{"p":4,"s":"2020","d":"4/24","v":900},{"p":4,"s":"2020","d":"4/28","v":700},{"p":4,"s":"2020","d":"5/1","v":900},{"p":4,"s":"2020","d":"5/3","v":600},{"p":4,"s":"2020","d":"5/6","v":800},{"p":4,"s":"2020","d":"5/9","v":400},{"p":4,"s":"2020","d":"5/13","v":890},{"p":4,"s":"2020","d":"5/17","v":300},{"p":4,"s":"2020","d":"5/20","v":200},{"p":4,"s":"2020","d":"5/24","v":400},{"p":4,"s":"2020","d":"5/28","v":-100},{"p":4,"s":"2020","d":"5/30","v":-300},{"p":4,"s":"2020","d":"6/5","v":-200},{"p":4,"s":"2020","d":"6/11","v":0},{"p":4,"s":"2020","d":"6/16","v":-400},{"p":4,"s":"2020","d":"6/22","v":-600},{"p":4,"s":"2020","d":"6/27","v":-500},{"p":4,"s":"2020","d":"7/1","v":-700},{"p":4,"s":"2020","d":"7/5","v":-500},{"p":4,"s":"2020","d":"7/11","v":-300},{"p":4,"s":"2020","d":"7/16","v":-200},{"p":4,"s":"2020","d":"7/21","v":-300},{"p":4,"s":"2020","d":"7/28","v":0},{"p":4,"s":"2020","d":"8/2","v":-200},{"p":4,"s":"2020","d":"8/9","v":100},{"p":4,"s":"2020","d":"8/17","v":0},{"p":4,"s":"2020","d":"8/24","v":200},{"p":4,"s":"2020","d":"8/28","v":700},{"p":4,"s":"2020","d":"8/31","v":400},{"p":4,"s":"2020","d":"9/6","v":100},{"p":4,"s":"2020","d":"9/12","v":300},{"p":4,"s":"2020","d":"9/16","v":500},{"p":4,"s":"2020","d":"9/23","v":400},{"p":4,"s":"2020","d":"9/30","v":300},{"p":4,"s":"2020","d":"10/4","v":600},{"p":4,"s":"2020","d":"10/8","v":400},{"p":4,"s":"2020","d":"10/14","v":800},{"p":4,"s":"2020","d":"10/17","v":500},{"p":4,"s":"2020","d":"10/21","v":300},{"p":4,"s":"2020","d":"10/25","v":200},{"p":4,"s":"2020","d":"10/30","v":1380},{"p":4,"s":"2020","d":"11/2","v":1000},{"p":4,"s":"2020","d":"11/5","v":400},{"p":4,"s":"2020","d":"11/7","v":900},{"p":4,"s":"2020","d":"11/10","v":1260},{"p":4,"s":"2020","d":"11/13","v":400},{"p":4,"s":"2020","d":"11/15","v":1000},{"p":4,"s":"2020","d":"11/18","v":200},{"p":4,"s":"2020","d":"11/22","v":500},{"p":4,"s":"2020","d":"11/24","v":100},{"p":4,"s":"2020","d":"11/26","v":600},{"p":4,"s":"2020","d":"11/29","v":100},{"p":4,"s":"2020","d":"12/1","v":300},
{"p":5,"s":"2017","d":"1/2","v":2120},{"p":5,"s":"2017","d":"5/5","v":2520},{"p":5,"s":"2017","d":"5/9","v":2200},{"p":5,"s":"2017","d":"5/14","v":1870},{"p":5,"s":"2017","d":"5/19","v":2000},{"p":5,"s":"2017","d":"5/25","v":1700},{"p":5,"s":"2017","d":"5/30","v":1900},{"p":5,"s":"2017","d":"6/4","v":4270},{"p":5,"s":"2017","d":"6/8","v":3900},{"p":5,"s":"2017","d":"6/11","v":4000},{"p":5,"s":"2017","d":"6/16","v":3500},{"p":5,"s":"2017","d":"6/21","v":3300},{"p":5,"s":"2017","d":"6/25","v":3400},{"p":5,"s":"2017","d":"7/2","v":3000},{"p":5,"s":"2017","d":"7/6","v":3200},{"p":5,"s":"2017","d":"7/12","v":2700},{"p":5,"s":"2017","d":"7/17","v":2500},{"p":5,"s":"2017","d":"7/23","v":2700},{"p":5,"s":"2017","d":"7/26","v":3300},{"p":5,"s":"2017","d":"7/31","v":2600},{"p":5,"s":"2017","d":"8/4","v":2200},{"p":5,"s":"2017","d":"8/10","v":2800},{"p":5,"s":"2017","d":"8/15","v":3000},{"p":5,"s":"2017","d":"8/19","v":3870},{"p":5,"s":"2017","d":"8/24","v":3800},{"p":5,"s":"2017","d":"8/27","v":2600},{"p":5,"s":"2017","d":"9/3","v":2800},{"p":5,"s":"2017","d":"9/11","v":2400},{"p":5,"s":"2017","d":"9/16","v":2300},{"p":5,"s":"2017","d":"9/22","v":2700},{"p":5,"s":"2017","d":"9/29","v":2800},{"p":5,"s":"2017","d":"10/6","v":2400},{"p":5,"s":"2017","d":"10/13","v":2500},{"p":5,"s":"2017","d":"10/17","v":3000},{"p":5,"s":"2017","d":"10/20","v":2200},{"p":5,"s":"2017","d":"10/28","v":2100},{"p":5,"s":"2017","d":"11/4","v":2600},{"p":5,"s":"2017","d":"11/11","v":2400},{"p":5,"s":"2017","d":"11/18","v":2100},{"p":5,"s":"2017","d":"11/25","v":2300},{"p":5,"s":"2017","d":"12/2","v":2200},{"p":5,"s":"2017","d":"12/13","v":2000},{"p":5,"s":"2017","d":"12/20","v":1900},{"p":5,"s":"2017","d":"12/24","v":1800},
{"p":5,"s":"2018","d":"1/2","v":1780},{"p":5,"s":"2018","d":"1/7","v":1800},{"p":5,"s":"2018","d":"1/16","v":2080},{"p":5,"s":"2018","d":"4/10","v":1610},{"p":5,"s":"2018","d":"4/15","v":1800},{"p":5,"s":"2018","d":"4/22","v":1600},{"p":5,"s":"2018","d":"4/28","v":1800},{"p":5,"s":"2018","d":"5/3","v":1600},{"p":5,"s":"2018","d":"5/9","v":1900},{"p":5,"s":"2018","d":"5/19","v":1700},{"p":5,"s":"2018","d":"5/26","v":2000},{"p":5,"s":"2018","d":"6/3","v":2300},{"p":5,"s":"2018","d":"6/10","v":2500},{"p":5,"s":"2018","d":"6/17","v":2400},{"p":5,"s":"2018","d":"6/25","v":2600},{"p":5,"s":"2018","d":"7/4","v":2500},{"p":5,"s":"2018","d":"7/12","v":2700},{"p":5,"s":"2018","d":"7/19","v":2600},{"p":5,"s":"2018","d":"7/26","v":2700},{"p":5,"s":"2018","d":"8/2","v":2600},{"p":5,"s":"2018","d":"8/10","v":2900},{"p":5,"s":"2018","d":"8/17","v":2700},{"p":5,"s":"2018","d":"8/22","v":2800},{"p":5,"s":"2018","d":"8/27","v":3000},{"p":5,"s":"2018","d":"9/3","v":2500},{"p":5,"s":"2018","d":"9/11","v":2400},{"p":5,"s":"2018","d":"9/17","v":2600},{"p":5,"s":"2018","d":"9/25","v":2500},{"p":5,"s":"2018","d":"10/2","v":2600},{"p":5,"s":"2018","d":"10/9","v":2700},{"p":5,"s":"2018","d":"10/17","v":2600},{"p":5,"s":"2018","d":"10/24","v":2700},{"p":5,"s":"2018","d":"10/31","v":2500},{"p":5,"s":"2018","d":"11/7","v":2400},{"p":5,"s":"2018","d":"11/14","v":2200},{"p":5,"s":"2018","d":"11/22","v":2000},{"p":5,"s":"2018","d":"11/29","v":2300},{"p":5,"s":"2018","d":"12/6","v":2200},{"p":5,"s":"2018","d":"12/13","v":2500},{"p":5,"s":"2018","d":"12/24","v":2600},
{"p":5,"s":"2019","d":"1/2","v":2480},{"p":5,"s":"2019","d":"1/4","v":2930},{"p":5,"s":"2019","d":"1/13","v":2900},{"p":5,"s":"2019","d":"1/20","v":2800},{"p":5,"s":"2019","d":"1/27","v":2900},{"p":5,"s":"2019","d":"2/4","v":2800},{"p":5,"s":"2019","d":"4/7","v":2120},{"p":5,"s":"2019","d":"4/16","v":2000},{"p":5,"s":"2019","d":"4/24","v":1800},{"p":5,"s":"2019","d":"4/29","v":2100},{"p":5,"s":"2019","d":"5/5","v":1900},{"p":5,"s":"2019","d":"5/12","v":1700},{"p":5,"s":"2019","d":"5/23","v":1600},{"p":5,"s":"2019","d":"5/28","v":1470},{"p":5,"s":"2019","d":"6/3","v":1800},{"p":5,"s":"2019","d":"6/8","v":3050},{"p":5,"s":"2019","d":"6/18","v":3100},{"p":5,"s":"2019","d":"6/28","v":3400},{"p":5,"s":"2019","d":"7/2","v":3500},{"p":5,"s":"2019","d":"7/8","v":3870},{"p":5,"s":"2019","d":"7/15","v":3700},{"p":5,"s":"2019","d":"7/23","v":3800},{"p":5,"s":"2019","d":"7/30","v":3900},{"p":5,"s":"2019","d":"8/4","v":4070},{"p":5,"s":"2019","d":"8/14","v":3900},{"p":5,"s":"2019","d":"8/17","v":3600},{"p":5,"s":"2019","d":"8/22","v":3300},{"p":5,"s":"2019","d":"8/27","v":3100},{"p":5,"s":"2019","d":"9/3","v":3200},{"p":5,"s":"2019","d":"9/11","v":3000},{"p":5,"s":"2019","d":"9/17","v":3100},{"p":5,"s":"2019","d":"9/25","v":3660},{"p":5,"s":"2019","d":"10/2","v":3600},{"p":5,"s":"2019","d":"10/9","v":3300},{"p":5,"s":"2019","d":"10/15","v":3100},{"p":5,"s":"2019","d":"10/23","v":3000},{"p":5,"s":"2019","d":"10/28","v":2800},{"p":5,"s":"2019","d":"11/2","v":3100},{"p":5,"s":"2019","d":"11/7","v":2900},{"p":5,"s":"2019","d":"11/14","v":2800},{"p":5,"s":"2019","d":"11/22","v":3000},{"p":5,"s":"2019","d":"11/29","v":2800},{"p":5,"s":"2019","d":"12/6","v":3000},{"p":5,"s":"2019","d":"12/13","v":2800},{"p":5,"s":"2019","d":"12/16","v":2400},{"p":5,"s":"2019","d":"12/22","v":1670},{"p":5,"s":"2019","d":"12/27","v":1700},
{"p":5,"s":"2020","d":"4/10","v":2040},{"p":5,"s":"2020","d":"4/24","v":2000},{"p":5,"s":"2020","d":"5/1","v":1800},{"p":5,"s":"2020","d":"5/5","v":1900},{"p":5,"s":"2020","d":"5/9","v":2100},{"p":5,"s":"2020","d":"5/12","v":1800},{"p":5,"s":"2020","d":"5/18","v":1600},{"p":5,"s":"2020","d":"5/26","v":1700},{"p":5,"s":"2020","d":"6/3","v":1700},{"p":5,"s":"2020","d":"6/8","v":2850},{"p":5,"s":"2020","d":"6/11","v":2300},{"p":5,"s":"2020","d":"6/14","v":1260},{"p":5,"s":"2020","d":"6/18","v":820},{"p":5,"s":"2020","d":"6/24","v":700},{"p":5,"s":"2020","d":"6/28","v":800},{"p":5,"s":"2020","d":"7/1","v":1500},{"p":5,"s":"2020","d":"7/4","v":2080},{"p":5,"s":"2020","d":"7/8","v":2500},{"p":5,"s":"2020","d":"7/13","v":3200},{"p":5,"s":"2020","d":"7/19","v":2900},{"p":5,"s":"2020","d":"7/24","v":3300},{"p":5,"s":"2020","d":"7/31","v":2800},{"p":5,"s":"2020","d":"8/6","v":3300},{"p":5,"s":"2020","d":"8/14","v":3200},{"p":5,"s":"2020","d":"8/21","v":3100},{"p":5,"s":"2020","d":"8/26","v":3300},{"p":5,"s":"2020","d":"8/31","v":3400},{"p":5,"s":"2020","d":"9/7","v":3300},{"p":5,"s":"2020","d":"9/12","v":3400},{"p":5,"s":"2020","d":"9/17","v":3100},{"p":5,"s":"2020","d":"9/24","v":3000},{"p":5,"s":"2020","d":"9/29","v":2700},{"p":5,"s":"2020","d":"10/6","v":3000},{"p":5,"s":"2020","d":"10/11","v":2600},{"p":5,"s":"2020","d":"10/17","v":3000},{"p":5,"s":"2020","d":"10/23","v":3200},{"p":5,"s":"2020","d":"10/28","v":3400},{"p":5,"s":"2020","d":"11/2","v":5530},{"p":5,"s":"2020","d":"11/5","v":4600},{"p":5,"s":"2020","d":"11/9","v":4500},{"p":5,"s":"2020","d":"11/13","v":3900},{"p":5,"s":"2020","d":"11/16","v":3300},{"p":5,"s":"2020","d":"11/20","v":3100},{"p":5,"s":"2020","d":"11/23","v":2180},{"p":5,"s":"2020","d":"11/25","v":3000},{"p":5,"s":"2020","d":"11/29","v":2400},{"p":5,"s":"2020","d":"12/2","v":3100},{"p":5,"s":"2020","d":"12/4","v":3000},{"p":5,"s":"2020","d":"12/7","v":3700},{"p":5,"s":"2020","d":"12/10","v":3400},
{"p":6,"s":"2017","d":"6/19","v":750},{"p":6,"s":"2017","d":"6/24","v":1800},{"p":6,"s":"2017","d":"7/2","v":500},{"p":6,"s":"2017","d":"7/7","v":1700},{"p":6,"s":"2017","d":"7/11","v":500},{"p":6,"s":"2017","d":"7/14","v":1200},{"p":6,"s":"2017","d":"7/19","v":1500},{"p":6,"s":"2017","d":"7/25","v":2500},{"p":6,"s":"2017","d":"7/31","v":2000},{"p":6,"s":"2017","d":"8/6","v":2860},{"p":6,"s":"2017","d":"8/11","v":2200},{"p":6,"s":"2017","d":"8/16","v":3000},{"p":6,"s":"2017","d":"8/22","v":2200},{"p":6,"s":"2017","d":"8/27","v":2600},{"p":6,"s":"2017","d":"9/2","v":1500},{"p":6,"s":"2017","d":"9/7","v":2200},{"p":6,"s":"2017","d":"9/13","v":1800},{"p":6,"s":"2017","d":"9/18","v":1200},{"p":6,"s":"2017","d":"9/23","v":2600},{"p":6,"s":"2017","d":"9/29","v":2500},{"p":6,"s":"2017","d":"10/5","v":2200},{"p":6,"s":"2017","d":"10/10","v":1800},{"p":6,"s":"2017","d":"10/17","v":1200},{"p":6,"s":"2017","d":"10/25","v":800},{"p":6,"s":"2017","d":"10/28","v":1300},{"p":6,"s":"2017","d":"11/3","v":900},{"p":6,"s":"2017","d":"11/8","v":1300},{"p":6,"s":"2017","d":"11/15","v":2200},{"p":6,"s":"2017","d":"11/20","v":2300},{"p":6,"s":"2017","d":"11/25","v":1900},{"p":6,"s":"2017","d":"12/1","v":2200},{"p":6,"s":"2017","d":"12/6","v":1800},{"p":6,"s":"2017","d":"12/10","v":1500},{"p":6,"s":"2017","d":"12/13","v":1100},{"p":6,"s":"2017","d":"12/17","v":800},{"p":6,"s":"2017","d":"12/20","v":1400},{"p":6,"s":"2017","d":"12/24","v":900},{"p":6,"s":"2017","d":"12/29","v":1400},
{"p":6,"s":"2018","d":"5/4","v":400},{"p":6,"s":"2018","d":"5/6","v":-1000},{"p":6,"s":"2018","d":"5/13","v":-600},{"p":6,"s":"2018","d":"5/22","v":0},{"p":6,"s":"2018","d":"5/29","v":600},{"p":6,"s":"2018","d":"6/4","v":1000},{"p":6,"s":"2018","d":"6/13","v":1500},{"p":6,"s":"2018","d":"6/22","v":1800},{"p":6,"s":"2018","d":"6/30","v":2000},{"p":6,"s":"2018","d":"7/7","v":2000},{"p":6,"s":"2018","d":"7/12","v":1500},{"p":6,"s":"2018","d":"7/16","v":400},{"p":6,"s":"2018","d":"7/21","v":-880},{"p":6,"s":"2018","d":"7/25","v":0},{"p":6,"s":"2018","d":"8/2","v":300},{"p":6,"s":"2018","d":"8/8","v":600},{"p":6,"s":"2018","d":"8/13","v":0},{"p":6,"s":"2018","d":"8/18","v":500},{"p":6,"s":"2018","d":"8/25","v":200},{"p":6,"s":"2018","d":"8/31","v":500},{"p":6,"s":"2018","d":"9/6","v":0},{"p":6,"s":"2018","d":"9/13","v":300},{"p":6,"s":"2018","d":"9/20","v":750},{"p":6,"s":"2018","d":"9/29","v":800},{"p":6,"s":"2018","d":"10/14","v":700},{"p":6,"s":"2018","d":"10/28","v":500},{"p":6,"s":"2018","d":"11/12","v":400},{"p":6,"s":"2018","d":"11/25","v":300},{"p":6,"s":"2018","d":"12/10","v":200},{"p":6,"s":"2018","d":"12/20","v":0},{"p":6,"s":"2018","d":"12/26","v":-300},{"p":6,"s":"2018","d":"12/30","v":-500},
{"p":6,"s":"2019","d":"3/24","v":220},{"p":6,"s":"2019","d":"4/7","v":200},{"p":6,"s":"2019","d":"4/21","v":0},{"p":6,"s":"2019","d":"5/6","v":-300},{"p":6,"s":"2019","d":"5/16","v":-760},{"p":6,"s":"2019","d":"5/24","v":-1080},{"p":6,"s":"2019","d":"5/29","v":-800},{"p":6,"s":"2019","d":"6/6","v":0},{"p":6,"s":"2019","d":"6/11","v":500},{"p":6,"s":"2019","d":"6/15","v":0},{"p":6,"s":"2019","d":"6/19","v":900},{"p":6,"s":"2019","d":"6/22","v":500},{"p":6,"s":"2019","d":"6/27","v":1000},{"p":6,"s":"2019","d":"7/4","v":1800},{"p":6,"s":"2019","d":"7/9","v":2000},{"p":6,"s":"2019","d":"7/14","v":2450},{"p":6,"s":"2019","d":"7/18","v":2600},{"p":6,"s":"2019","d":"7/24","v":2500},{"p":6,"s":"2019","d":"7/29","v":2100},{"p":6,"s":"2019","d":"8/6","v":2600},{"p":6,"s":"2019","d":"8/11","v":2500},{"p":6,"s":"2019","d":"8/16","v":2000},{"p":6,"s":"2019","d":"8/24","v":1600},{"p":6,"s":"2019","d":"8/31","v":1500},{"p":6,"s":"2019","d":"9/7","v":1400},{"p":6,"s":"2019","d":"9/15","v":1300},{"p":6,"s":"2019","d":"9/20","v":1500},{"p":6,"s":"2019","d":"9/24","v":2700},{"p":6,"s":"2019","d":"10/3","v":2800},{"p":6,"s":"2019","d":"10/10","v":2900},{"p":6,"s":"2019","d":"10/17","v":2500},{"p":6,"s":"2019","d":"10/25","v":2200},{"p":6,"s":"2019","d":"11/1","v":2000},{"p":6,"s":"2019","d":"11/8","v":1800},{"p":6,"s":"2019","d":"11/15","v":1600},{"p":6,"s":"2019","d":"11/22","v":1800},{"p":6,"s":"2019","d":"11/29","v":2000},{"p":6,"s":"2019","d":"12/6","v":1900},{"p":6,"s":"2019","d":"12/13","v":1700},{"p":6,"s":"2019","d":"12/20","v":1600},{"p":6,"s":"2019","d":"12/24","v":-270},{"p":6,"s":"2019","d":"12/30","v":-500},
{"p":6,"s":"2020","d":"4/7","v":1970},{"p":6,"s":"2020","d":"5/5","v":2000},{"p":6,"s":"2020","d":"5/13","v":1700},{"p":6,"s":"2020","d":"5/19","v":1300},{"p":6,"s":"2020","d":"6/2","v":1300},{"p":6,"s":"2020","d":"6/6","v":1000},{"p":6,"s":"2020","d":"6/10","v":-1280},{"p":6,"s":"2020","d":"6/19","v":-1300},{"p":6,"s":"2020","d":"6/26","v":-1200},{"p":6,"s":"2020","d":"6/30","v":950},{"p":6,"s":"2020","d":"7/4","v":800},{"p":6,"s":"2020","d":"7/9","v":1900},{"p":6,"s":"2020","d":"7/14","v":2500},{"p":6,"s":"2020","d":"7/18","v":2860},{"p":6,"s":"2020","d":"7/24","v":2700},{"p":6,"s":"2020","d":"7/27","v":1800},{"p":6,"s":"2020","d":"8/2","v":1900},{"p":6,"s":"2020","d":"8/9","v":1800},{"p":6,"s":"2020","d":"8/16","v":1700},{"p":6,"s":"2020","d":"8/24","v":1600},{"p":6,"s":"2020","d":"8/31","v":1800},{"p":6,"s":"2020","d":"9/7","v":1700},{"p":6,"s":"2020","d":"9/15","v":1500},{"p":6,"s":"2020","d":"9/20","v":1000},{"p":6,"s":"2020","d":"9/25","v":0},{"p":6,"s":"2020","d":"10/3","v":-1000},{"p":6,"s":"2020","d":"10/10","v":-2000},{"p":6,"s":"2020","d":"10/14","v":-2500},{"p":6,"s":"2020","d":"10/17","v":-2600},{"p":6,"s":"2020","d":"10/21","v":-4100},{"p":6,"s":"2020","d":"10/25","v":-5000},{"p":6,"s":"2020","d":"10/27","v":-5700},{"p":6,"s":"2020","d":"10/31","v":-7200},{"p":6,"s":"2020","d":"11/2","v":-7200},{"p":6,"s":"2020","d":"11/6","v":-60},{"p":6,"s":"2020","d":"11/10","v":260},{"p":6,"s":"2020","d":"11/13","v":0},{"p":6,"s":"2020","d":"11/16","v":-1000},{"p":6,"s":"2020","d":"11/20","v":-1500},{"p":6,"s":"2020","d":"11/23","v":-800},{"p":6,"s":"2020","d":"11/25","v":-2000},{"p":6,"s":"2020","d":"11/27","v":-1000},{"p":6,"s":"2020","d":"11/29","v":-2900},{"p":6,"s":"2020","d":"12/3","v":-1500},{"p":6,"s":"2020","d":"12/6","v":-2200},{"p":6,"s":"2020","d":"12/8","v":-1500},{"p":6,"s":"2020","d":"12/12","v":-1000},{"p":6,"s":"2020","d":"12/14","v":-470}
]},
"title":{"text":"数据来源：卓创，混沌天成研究院","orient":"bottom","anchor":"start","fontSize":12,"fontWeight":"normal","font":"Noto Sans CJK SC","color":"#A0804A","offset":14,"frame":"bounds","dx":0},
"vconcat":[{
"title":{"text":"图表 23：2017-20 年中国原料收购价及加工利润","anchor":"start","dx":-5,"fontSize":12,"fontWeight":"normal","font":"Noto Sans CJK SC","color":"#A0804A","offset":18,"frame":"bounds"},
"columns":3,
"spacing":{"row":68,"column":28},
"bounds":"flush",
"resolve":{"scale":{"color":"independent"},"legend":{"color":"independent"}},
"concat":[
{"title":{"text":"云南胶水价格：元/公斤"},"width":167,"height":99,"transform":[{"filter":"datum.p==1"}],"mark":"line",
"encoding":{"x":{"field":"d","type":"temporal","title":null,"scale":{"domain":[{"year":1900,"month":1,"date":2},{"year":1900,"month":12,"date":31}]},"axis":{"values":[{"year":1900,"month":1,"date":2},{"year":1900,"month":2,"date":2},{"year":1900,"month":3,"date":2},{"year":1900,"month":4,"date":2},{"year":1900,"month":5,"date":2},{"year":1900,"month":6,"date":2},{"year":1900,"month":7,"date":2},{"year":1900,"month":8,"date":2},{"year":1900,"month":9,"date":2},{"year":1900,"month":10,"date":2},{"year":1900,"month":11,"date":2},{"year":1900,"month":12,"date":2}]}},
"y":{"field":"v","type":"quantitative","title":null,"scale":{"domain":[6000,15000],"nice":false,"zero":false},"axis":{"values":[6000,7000,8000,9000,10000,11000,12000,13000,14000,15000]}},
"color":{"field":"s","type":"nominal","title":null,"scale":{"domain":["2017","2018","2019","2020"],"range":["#5B9BD5","#ED7D31","#FF0000","#000000"]}}}},
{"title":{"text":"云南二级胶价格：元/公斤"},"width":167,"height":99,"transform":[{"filter":"datum.p==2"}],"mark":"line",
"encoding":{"x":{"field":"d","type":"temporal","title":null,"scale":{"domain":[{"year":1900,"month":1,"date":2},{"year":1900,"month":12,"date":31}]},"axis":{"values":[{"year":1900,"month":1,"date":2},{"year":1900,"month":2,"date":2},{"year":1900,"month":3,"date":2},{"year":1900,"month":4,"date":2},{"year":1900,"month":5,"date":2},{"year":1900,"month":6,"date":2},{"year":1900,"month":7,"date":2},{"year":1900,"month":8,"date":2},{"year":1900,"month":9,"date":2},{"year":1900,"month":10,"date":2},{"year":1900,"month":11,"date":2},{"year":1900,"month":12,"date":2}]}},
"y":{"field":"v","type":"quantitative","title":null,"scale":{"domain":[6000,14000],"nice":false,"zero":false},"axis":{"values":[6000,7000,8000,9000,10000,11000,12000,13000,14000]}},
"color":{"field":"s","type":"nominal","title":null,"scale":{"domain":["2017","2018","2019","2020"],"range":["#5B9BD5","#ED7D31","#FF0000","#000000"]}}}},
{"title":{"text":"海南胶水价格：元/公斤"},"width":167,"height":99,"transform":[{"filter":"datum.p==3"}],"mark":"line",
"encoding":{"x":{"field":"d","type":"temporal","title":null,"scale":{"domain":[{"year":1900,"month":1,"date":2},{"year":1900,"month":12,"date":31}]},"axis":{"values":[{"year":1900,"month":1,"date":2},{"year":1900,"month":2,"date":2},{"year":1900,"month":3,"date":2},{"year":1900,"month":4,"date":2},{"year":1900,"month":5,"date":2},{"year":1900,"month":6,"date":2},{"year":1900,"month":7,"date":2},{"year":1900,"month":8,"date":2},{"year":1900,"month":9,"date":2},{"year":1900,"month":10,"date":2},{"year":1900,"month":11,"date":2},{"year":1900,"month":12,"date":2}]}},
"y":{"field":"v","type":"quantitative","title":null,"scale":{"domain":[6000,22000],"nice":false,"zero":false},"axis":{"values":[6000,8000,10000,12000,14000,16000,18000,20000,22000]}},
"color":{"field":"s","type":"nominal","title":null,"scale":{"domain":["2017","2018","2019","2020"],"range":["#5B9BD5","#ED7D31","#FF0000","#000000"]}}}},
{"title":{"text":"云南SCRWF加工利润：元/吨"},"width":167,"height":99,"transform":[{"filter":"datum.p==4"}],"mark":"line",
"encoding":{"x":{"field":"d","type":"temporal","title":null,"scale":{"domain":[{"year":1900,"month":1,"date":2},{"year":1900,"month":12,"date":31}]},"axis":{"values":[{"year":1900,"month":1,"date":2},{"year":1900,"month":2,"date":2},{"year":1900,"month":3,"date":2},{"year":1900,"month":4,"date":2},{"year":1900,"month":5,"date":2},{"year":1900,"month":6,"date":2},{"year":1900,"month":7,"date":2},{"year":1900,"month":8,"date":2},{"year":1900,"month":9,"date":2},{"year":1900,"month":10,"date":2},{"year":1900,"month":11,"date":2},{"year":1900,"month":12,"date":2}]}},
"y":{"field":"v","type":"quantitative","title":null,"scale":{"domain":[-2000,2500],"nice":false,"zero":false},"axis":{"values":[-2000,-1500,-1000,-500,0,500,1000,1500,2000,2500]}},
"color":{"field":"s","type":"nominal","title":null,"scale":{"domain":["2017","2018","2019","2020"],"range":["#5B9BD5","#ED7D31","#FF0000","#000000"]}}}},
{"title":{"text":"海南浓乳加工利润：元/吨"},"width":167,"height":99,"transform":[{"filter":"datum.p==5"}],"mark":"line",
"encoding":{"x":{"field":"d","type":"temporal","title":null,"scale":{"domain":[{"year":1900,"month":1,"date":2},{"year":1900,"month":12,"date":31}]},"axis":{"values":[{"year":1900,"month":1,"date":2},{"year":1900,"month":2,"date":2},{"year":1900,"month":3,"date":2},{"year":1900,"month":4,"date":2},{"year":1900,"month":5,"date":2},{"year":1900,"month":6,"date":2},{"year":1900,"month":7,"date":2},{"year":1900,"month":8,"date":2},{"year":1900,"month":9,"date":2},{"year":1900,"month":10,"date":2},{"year":1900,"month":11,"date":2},{"year":1900,"month":12,"date":2}]}},
"y":{"field":"v","type":"quantitative","title":null,"scale":{"domain":[0,6000],"nice":false,"zero":false},"axis":{"values":[0,1000,2000,3000,4000,5000,6000]}},
"color":{"field":"s","type":"nominal","title":null,"scale":{"domain":["2017","2018","2019","2020"],"range":["#5B9BD5","#ED7D31","#FF0000","#000000"]}}}},
{"title":{"text":"海南全乳加工利润：元/吨"},"width":167,"height":99,"transform":[{"filter":"datum.p==6"}],"mark":"line",
"encoding":{"x":{"field":"d","type":"temporal","title":null,"scale":{"domain":[{"year":1900,"month":1,"date":2},{"year":1900,"month":12,"date":31}]},"axis":{"values":[{"year":1900,"month":1,"date":2},{"year":1900,"month":2,"date":2},{"year":1900,"month":3,"date":2},{"year":1900,"month":4,"date":2},{"year":1900,"month":5,"date":2},{"year":1900,"month":6,"date":2},{"year":1900,"month":7,"date":2},{"year":1900,"month":8,"date":2},{"year":1900,"month":9,"date":2},{"year":1900,"month":10,"date":2},{"year":1900,"month":11,"date":2},{"year":1900,"month":12,"date":2}]}},
"y":{"field":"v","type":"quantitative","title":null,"scale":{"domain":[-8000,4000],"nice":false,"zero":false},"axis":{"values":[-8000,-6000,-4000,-2000,0,2000,4000]}},
"color":{"field":"s","type":"nominal","title":null,"scale":{"domain":["2017","2018","2019","2020"],"range":["#5B9BD5","#ED7D31","#FF0000","#000000"]}}}}
]}],
"config":{
"font":"Liberation Sans",
"view":{"stroke":null},
"line":{"strokeWidth":1.3},
"title":{"fontSize":8,"fontWeight":"bold","font":"Noto Sans CJK SC","color":"#333333","offset":4,"frame":"group","dx":-8},
"axis":{"labelFontSize":5.5,"labelColor":"#8c8c8c","ticks":false,"domain":false,"grid":false,"labelFont":"Liberation Sans","labelFlush":false},
"axisY":{"grid":true,"gridColor":"#e3e3e3","gridWidth":0.6,"labelPadding":4,"format":"d"},
"axisX":{"domain":true,"domainColor":"#d9d9d9","domainWidth":0.8,"labelPadding":3,"format":"%-m/%-d","labelAngle":0},
"legend":{"orient":"bottom","direction":"horizontal","symbolType":"stroke","symbolSize":120,"symbolStrokeWidth":1.6,"labelFontSize":5.5,"labelColor":"#7f7f7f","columnPadding":8,"labelOffset":2,"padding":0,"offset":3,"layout":{"bottom":{"anchor":"middle"}}}
}
}
